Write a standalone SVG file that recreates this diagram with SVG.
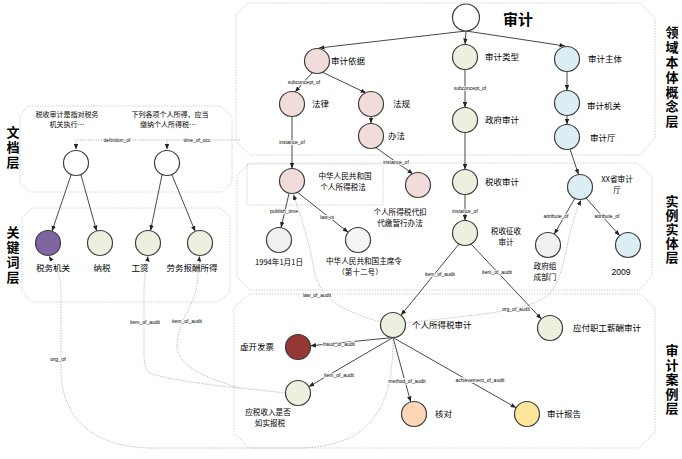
<svg xmlns="http://www.w3.org/2000/svg" width="682" height="459" viewBox="0 0 682 459">
<defs>
<marker id="a" markerWidth="6" markerHeight="5" refX="5.5" refY="2.5" orient="auto" markerUnits="userSpaceOnUse">
<path d="M0,0.3 L5.5,2.5 L0,4.7 Z" fill="#222"/>
</marker>
<style>
.box{fill:none;stroke:#c6c6c6;stroke-width:0.8;stroke-dasharray:1.5 1.2}
.e{stroke:#333;stroke-width:0.9;fill:none;marker-end:url(#a)}
.dm{stroke:#aaa;stroke-width:0.8;stroke-dasharray:1.3 1.3;fill:none;marker-end:url(#a)}
.n{stroke:#3c3c3c;stroke-width:1.2}
.lb{font-family:"Noto Sans CJK SC","Liberation Sans",sans-serif;font-size:8.5px;fill:#000}
.lm{font-family:"Noto Sans CJK SC","Liberation Sans",sans-serif;font-size:8.5px;fill:#000;text-anchor:middle}
.t2{font-family:"Noto Sans CJK SC","Liberation Sans",sans-serif;font-size:7.6px;fill:#000;text-anchor:middle}
.sm{font-family:"Noto Sans CJK SC","Liberation Sans",sans-serif;font-size:7px;fill:#000;text-anchor:middle}
.el{font-family:"Liberation Sans",sans-serif;font-size:5px;text-anchor:middle;fill:#000;paint-order:stroke;stroke:#fff;stroke-width:1.6}
.ly{font-family:"Noto Sans CJK SC",sans-serif;font-size:13px;font-weight:bold;fill:#000;writing-mode:vertical-rl}
.w{fill:#fff}.p{fill:#f2dcdb}.g{fill:#ebf1de}.b{fill:#dbeef4}.gr{fill:#f0f0f0}
</style>
</defs>

<g id="layers">
<path class="box" d="M236,15 L248,3 L640,3 L655,18 L655,138 L640,155 L250,155 L236,141 Z"/>
<path class="box" d="M237,176 L250,163 L638,163 L652,177 L652,277 L639,290 L250,290 L237,277 Z"/>
<path class="box" d="M247,164 L383,164 L383,205 L247,205 Z"/>
<path class="box" d="M234,308 L249,294 L640,294 L655,308 L655,432 L639,448 L249,448 L234,433 Z"/>
<path class="box" d="M20,116 L28,106 L220,106 L232,116 L232,182 L222,192 L30,192 L20,183 Z"/>
<path class="box" d="M22,218 L32,208 L220,208 L230,216 L230,292 L218,302 L32,302 L22,292 Z"/>
<text class="ly" x="672" y="26" style="letter-spacing:1.8px">领域本体概念层</text>
<text class="ly" x="672" y="195" style="letter-spacing:1px">实例实体层</text>
<text class="ly" x="672" y="344" style="letter-spacing:1.5px">审计案例层</text>
<text class="ly" x="13" y="126" style="letter-spacing:2px">文档层</text>
<text class="ly" x="13" y="226" style="letter-spacing:1.7px">关键词层</text>
</g>

<g id="connectors">
<path class="e" d="M466,31 L319,48"/>
<path class="e" d="M466,31 L465,44"/>
<path class="e" d="M466,31 L565,46"/>
<path class="e" d="M312,73 L295,92"/>
<path class="e" d="M322,72 L366,93"/>
<path class="e" d="M371,116 L371,123.5"/>
<path class="e" d="M292,116.5 L292,168.5"/>
<path class="e" d="M375,147 L413,174"/>
<path class="e" d="M465,69.5 L465,107.5"/>
<path class="e" d="M465,132.5 L465,169.5"/>
<path class="e" d="M567,71.5 L567,90.5"/>
<path class="e" d="M567,115.5 L567,124.5"/>
<path class="e" d="M570,149 L578.5,174.5"/>
<path class="e" d="M465,194.5 L465,220.5"/>
<path class="e" d="M575,198 L554.2,234.2"/>
<path class="e" d="M586,198 L619.7,235.7"/>
<path class="e" d="M289,193.5 L281,227.5"/>
<path class="e" d="M297,192 L348.2,232.3"/>
<path class="e" d="M459,244 L400.9,315.3"/>
<path class="e" d="M471,244 L541.4,318.9"/>
<path class="e" d="M393,337.5 L310.4,345.8"/>
<path class="e" d="M393,337.5 L308.8,386.7"/>
<path class="e" d="M393,337.5 L410.7,401.9"/>
<path class="e" d="M393,337.5 L516.1,407.8"/>
<path class="e" d="M71,175 L52,231.2"/>
<path class="e" d="M81,175 L96.6,231"/>
<path class="e" d="M162,175 L150.5,230.7"/>
<path class="e" d="M172,175 L195.2,231.4"/>

<path class="dm" d="M393,337.5 C393,400 378,446 300,448 L150,448 C90,447 61,415 61,370 L61,290 C61,278 56,268 49,256"/>
<path class="dm" d="M285.5,393 L240,388 C200,384 160,378 150,373 C145,370 144,365 144,350 L144,290 C144,275 147,265 148,256"/>
<path class="dm" d="M240,388 C205,378 176,365 177,345 C178,320 195,305 197,285 L199.5,256"/>
<path class="dm" d="M381,322 C345,312 320,300 314,270 C309,240 300,215 293.5,194.5"/>
<path class="dm" d="M406,323 C460,316 525,313 547,296 C566,280 565,235 581,200"/>
<path class="dm" d="M240,140 L76,140 L76,149.5"/>
<path class="dm" d="M167,140 L167,149.5"/>

<text class="el" x="304" y="83.7">subconcept_of</text>
<text class="el" x="470" y="89.7">subconcept_of</text>
<text class="el" x="292" y="143.7">instance_of</text>
<text class="el" x="396" y="163.7">instance_of</text>
<text class="el" x="465" y="212.7">instance_of</text>
<text class="el" x="556" y="217.7">attribute_of</text>
<text class="el" x="607" y="217.7">attribute_of</text>
<text class="el" x="284" y="212.7">publish_time</text>
<text class="el" x="327" y="218.7">law_is</text>
<text class="el" x="440" y="275.7">item_of_audit</text>
<text class="el" x="497" y="273.7">item_of_audit</text>
<text class="el" x="317" y="296.7">law_of_audit</text>
<text class="el" x="516" y="310.7">org_of_audit</text>
<text class="el" x="339" y="345.7">fraud_of_audit</text>
<text class="el" x="339" y="376.7">item_of_audit</text>
<text class="el" x="407" y="382.7">method_of_audit</text>
<text class="el" x="480" y="381.7">achievement_of_audit</text>
<text class="el" x="58" y="361" style="font-size:5.5px">org_of</text>
<text class="el" x="145" y="323.7">item_of_audit</text>
<text class="el" x="187" y="322.7">item_of_audit</text>
<text class="el" x="117" y="141.7">definition_of</text>
<text class="el" x="197" y="141.7">time_of_occ</text>
</g>

<g id="n-audit"><circle class="n w" cx="466" cy="17.5" r="13.5"/><text x="503" y="25" style="font-family:'Noto Sans CJK SC',sans-serif;font-size:15px;font-weight:bold">审计</text></g>
<g id="n-yiju"><circle class="n p" cx="317" cy="61" r="12.5"/><text class="lb" x="331" y="64">审计依据</text></g>
<g id="n-leixing"><circle class="n g" cx="465" cy="57" r="12.5"/><text class="lb" x="485" y="60">审计类型</text></g>
<g id="n-zhuti"><circle class="n b" cx="567" cy="59" r="12.5"/><text class="lb" x="588" y="62">审计主体</text></g>
<g id="n-falv"><circle class="n p" cx="292" cy="104" r="12.5"/><text class="lb" x="312" y="107">法律</text></g>
<g id="n-fagui"><circle class="n p" cx="371" cy="104" r="12.5"/><text class="lb" x="393" y="107">法规</text></g>
<g id="n-banfa"><circle class="n p" cx="371" cy="136" r="12.5"/><text class="lb" x="388" y="139">办法</text></g>
<g id="n-zhengfu"><circle class="n g" cx="465" cy="120" r="12.5"/><text class="lb" x="485" y="123">政府审计</text></g>
<g id="n-jiguan"><circle class="n b" cx="567" cy="103" r="12.5"/><text class="lb" x="587" y="109">审计机关</text></g>
<g id="n-ting"><circle class="n b" cx="567" cy="137" r="12.5"/><text class="lb" x="590" y="141">审计厅</text></g>

<g id="n-sdsf"><circle class="n p" cx="292" cy="181" r="12.5"/><text class="t2" x="345" y="179">中华人民共和国</text><text class="t2" x="343" y="190">个人所得税法</text></g>
<g id="n-daikou"><circle class="n p" cx="418" cy="185" r="12.5"/><text class="t2" x="400" y="215">个人所得税代扣</text><text class="t2" x="400" y="226">代缴暂行办法</text></g>
<g id="n-shuishou"><circle class="n g" cx="465" cy="182" r="12.5"/><text class="lb" x="485" y="185">税收审计</text></g>
<g id="n-xxting"><circle class="n b" cx="580" cy="187" r="12.5"/><text class="t2" x="617" y="182">XX省审计</text><text class="t2" x="617" y="193">厅</text></g>
<g id="n-1994"><circle class="n gr" cx="279" cy="240" r="12.5"/><text class="t2" x="279" y="265">1994年1月1日</text></g>
<g id="n-zhuxiling"><circle class="n" cx="358" cy="240" r="12.5" fill="#f5f5f5"/><text class="t2" x="364" y="264">中华人民共和国主席令</text><text class="t2" x="360" y="275">（第十二号）</text></g>
<g id="n-zhengshou"><circle class="n g" cx="465" cy="233" r="12.5"/><text class="t2" x="506" y="234">税收征收</text><text class="t2" x="506" y="245">审计</text></g>
<g id="n-zucheng"><circle class="n gr" cx="548" cy="245" r="12.5"/><text class="t2" x="545" y="269">政府组</text><text class="t2" x="545" y="280">成部门</text></g>
<g id="n-2009"><circle class="n b" cx="628" cy="245" r="12.5"/><text class="lm" x="621" y="275" style="font-family:'Liberation Sans',sans-serif">2009</text></g>

<g id="n-gesui"><circle class="n g" cx="393" cy="325" r="12.5"/><text class="lb" x="412" y="328">个人所得税审计</text></g>
<g id="n-yingfu"><circle class="n g" cx="550" cy="328" r="12.5"/><text class="lb" x="573" y="331">应付职工薪酬审计</text></g>
<g id="n-xukai"><circle class="n" cx="298" cy="347" r="12.5" fill="#953735"/><text class="lb" x="240" y="350">虚开发票</text></g>
<g id="n-yingshui"><circle class="n g" cx="298" cy="393" r="12.5"/><text class="t2" x="268" y="415">应税收入是否</text><text class="t2" x="270" y="426">如实报税</text></g>
<g id="n-hedui"><circle class="n" cx="414" cy="414" r="12.5" fill="#fcd5b5"/><text class="lb" x="435" y="417">核对</text></g>
<g id="n-baogao"><circle class="n" cx="527" cy="414" r="12.5" fill="#fee599"/><text class="lb" x="547" y="417">审计报告</text></g>

<g id="n-doc1"><circle class="n w" cx="76" cy="163" r="12.5"/><text class="sm" x="67" y="116.5">税收审计是指对税务</text><text class="sm" x="67" y="127">机关执行…</text></g>
<g id="n-doc2"><circle class="n w" cx="167" cy="163" r="12.5"/><text class="sm" x="170" y="116.5">下列各项个人所得，应当</text><text class="sm" x="168" y="127">缴纳个人所得税…</text></g>
<g id="n-swjg"><circle class="n" cx="48" cy="243" r="12.5" fill="#8064a2"/><text class="lm" x="53" y="271">税务机关</text></g>
<g id="n-nashui"><circle class="n g" cx="100" cy="243" r="12.5"/><text class="lm" x="102" y="271">纳税</text></g>
<g id="n-gongzi"><circle class="n g" cx="148" cy="243" r="12.5"/><text class="lm" x="140" y="271">工资</text></g>
<g id="n-laowu"><circle class="n g" cx="200" cy="243" r="12.5"/><text class="lm" x="192" y="271">劳务报酬所得</text></g>
</svg>
